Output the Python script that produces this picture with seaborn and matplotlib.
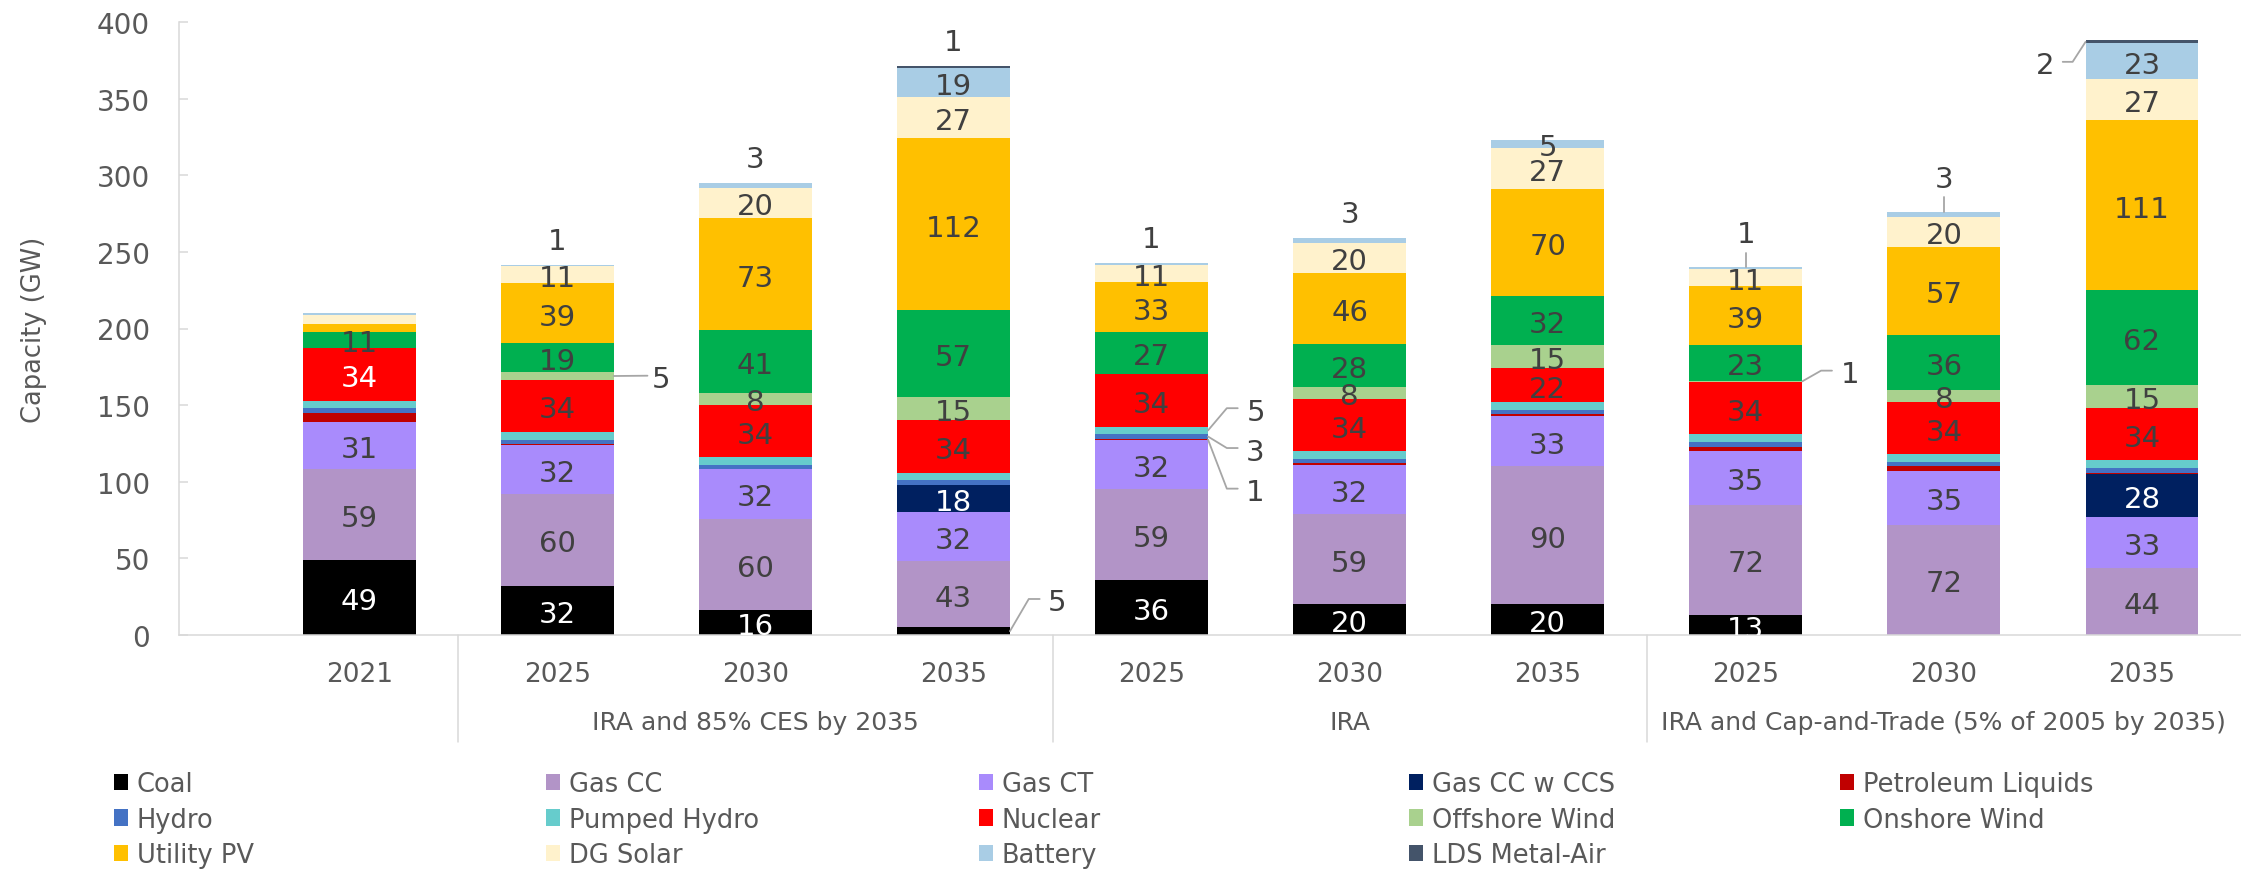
import numpy as np
import pandas as pd
import matplotlib
matplotlib.use("Agg")
import matplotlib.pyplot as plt
import seaborn as sns
from matplotlib.patches import Patch
from matplotlib.transforms import blended_transform_factory

# ---------------- data ----------------
bar_ids = ["Base 2021", "CES 2025", "CES 2030", "CES 2035",
           "IRA 2025", "IRA 2030", "IRA 2035",
           "CT 2025", "CT 2030", "CT 2035"]
years = ["2021", "2025", "2030", "2035", "2025", "2030", "2035", "2025", "2030", "2035"]
groups = ["IRA and 85% CES by 2035", "IRA", "IRA and Cap-and-Trade (5% of 2005 by 2035)"]
group_members = [[1, 2, 3], [4, 5, 6], [7, 8, 9]]

series = ["Coal", "Gas CC", "Gas CT", "Gas CC w CCS", "Petroleum Liquids",
          "Hydro", "Pumped Hydro", "Nuclear", "Offshore Wind", "Onshore Wind",
          "Utility PV", "DG Solar", "Battery", "LDS Metal-Air"]
colors = ["#000000", "#B294C7", "#A98BFC", "#002060", "#C00000",
          "#4472C4", "#66CCCC", "#FF0000", "#A9D18E", "#00B050",
          "#FFC000", "#FFF2CC", "#A9CDE5", "#44546A"]

coal       = [49, 32, 16, 5, 36, 20, 20, 13, 0, 0]
gas_cc     = [59, 60, 60, 43, 59, 59, 90, 72, 72, 44]
gas_ct     = [31, 32, 32, 32, 32, 32, 33, 35, 35, 33]
gas_cc_ccs = [0, 0, 0, 18, 0, 0, 0, 0, 0, 28]
petroleum  = [6, 0.5, 0, 0, 1, 1, 1, 3, 3, 1]
hydro      = [3, 3, 3, 3, 3, 3, 3, 3, 3, 3]
pumped     = [5, 5, 5, 5, 5, 5, 5, 5, 5, 5]
nuclear    = [34, 34, 34, 34, 34, 34, 22, 34, 34, 34]
offshore   = [0, 5, 8, 15, 0.5, 8, 15, 1, 8, 15]
onshore    = [11, 19, 41, 57, 27, 28, 32, 23, 36, 62]
utility_pv = [5, 39, 73, 112, 33, 46, 70, 39, 57, 111]
dg_solar   = [6, 11, 20, 27, 11, 20, 27, 11, 20, 27]
battery    = [1, 1, 3, 19, 1, 3, 5, 1, 3, 23]
lds        = [0, 0, 0, 1, 0, 0, 0, 0, 0, 2]

values = np.array([coal, gas_cc, gas_ct, gas_cc_ccs, petroleum, hydro, pumped,
                   nuclear, offshore, onshore, utility_pv, dg_solar, battery, lds],
                  dtype=float)
cum = np.cumsum(values, axis=0)
totals = cum[-1]

# ---------------- style ----------------
sns.set_theme(style="white")
plt.rcParams["font.family"] = ["DejaVu Sans"]
TXT = "#595959"
LBL = "#404040"
AXC = "#D9D9D9"
LEAD = "#A6A6A6"
BAR_W = 0.57
H = BAR_W / 2

W_PX, H_PX = 2241, 879
fig = plt.figure(figsize=(W_PX / 100, H_PX / 100), dpi=100)
ax = fig.add_axes([179 / W_PX, 1 - 636 / H_PX, (W_PX - 179) / W_PX, 613 / H_PX])

# stacked bars: draw cumulative tops from the top series downwards
for k in reversed(range(len(series))):
    d = pd.DataFrame({"bar": bar_ids, "top": cum[k]})
    sns.barplot(data=d, x="bar", y="top", order=bar_ids, color=colors[k],
                saturation=1, width=BAR_W, errorbar=None, linewidth=0, ax=ax)

ax.set_xlim(-0.91, 9.5)
ax.set_ylim(0, 400)
ax.set_yticks(np.arange(0, 401, 50))
ax.set_xticks(range(len(bar_ids)))
ax.set_xticklabels(years)
ax.set_xlabel("")
ax.set_ylabel("Capacity (GW)", fontsize=18.5, color=TXT)
ax.yaxis.set_label_coords(-0.064, 0.5)

for s in ["top", "right"]:
    ax.spines[s].set_visible(False)
for s in ["left", "bottom"]:
    ax.spines[s].set_color(AXC)
    ax.spines[s].set_linewidth(1.1)
ax.tick_params(axis="y", direction="in", length=6.5, width=1.1, color=AXC,
               labelsize=20, labelcolor=TXT, pad=21, left=True)
ax.tick_params(axis="x", length=0, labelsize=19, labelcolor=TXT, pad=18.5)
ax.grid(False)

# group separators and group labels
tr = blended_transform_factory(ax.transData, ax.transAxes)
for xb in [0.5, 3.5, 6.5]:
    ax.plot([xb, xb], [0, -0.175], transform=tr, color=AXC, lw=1.1, clip_on=False)
for name, mem in zip(groups, group_members):
    ax.text(np.mean(mem), -0.142, name, transform=tr, ha="center", va="center",
            fontsize=18, color=TXT)

# ---------------- data labels ----------------
white_series = {"Coal", "Gas CC w CCS"}
white_extra = {(0, "Nuclear")}
extra_inside = {(6, "Battery")}

for j in range(len(bar_ids)):
    for k, name in enumerate(series):
        v = values[k, j]
        if v >= 8 or (j, name) in extra_inside:
            yc = cum[k, j] - v / 2
            col = "white" if (name in white_series or (j, name) in white_extra) else LBL
            ax.annotate(f"{v:g}", xy=(j, yc), xytext=(0, -2.5), textcoords="offset points",
                        ha="center", va="center", fontsize=21, color=col,
                        annotation_clip=False, clip_on=True)


def seg_center(j, name):
    k = series.index(name)
    return cum[k, j] - values[k, j] / 2


def lab(x, y, txt):
    ax.annotate(txt, xy=(x, y), xytext=(0, -2.5), textcoords="offset points",
                ha="center", va="center", fontsize=21, color=LBL, annotation_clip=False)


def val(j, name):
    return f"{values[series.index(name), j]:g}"


# labels above bars (no leader)
for j, name in [(1, "Battery"), (2, "Battery"), (3, "LDS Metal-Air"),
                (4, "Battery"), (5, "Battery")]:
    lab(j, totals[j] + 18, val(j, name))

# labels above bars with short vertical leader
for j, name in [(7, "Battery"), (8, "Battery")]:
    ax.plot([j, j], [totals[j], totals[j] + 9.5], color=LEAD, lw=1.3)
    lab(j, totals[j] + 24, val(j, name))

# side callouts to the right of a bar: (bar, series, label dy)
for j, name, dy in [(1, "Offshore Wind", 0), (3, "Coal", 21),
                    (4, "Pumped Hydro", 14.5), (4, "Hydro", -7.5),
                    (4, "Petroleum Liquids", -32),
                    (7, "Offshore Wind", 7)]:
    yc = seg_center(j, name)
    x0 = j + H
    if abs(dy) < 1:
        ax.plot([x0, x0 + 0.17], [yc, yc + 0.2], color=LEAD, lw=1.3, clip_on=False)
    else:
        ax.plot([x0, x0 + 0.095, x0 + 0.15], [yc, yc + dy, yc + dy],
                color=LEAD, lw=1.3, clip_on=False)
    lab(x0 + 0.24, yc + dy, val(j, name))

# callout to the left of the last bar (LDS Metal-Air)
j = 9
top = totals[j]
x0 = j - H
ax.plot([x0, x0 - 0.065, x0 - 0.115], [top - 1, top - 14, top - 14], color=LEAD, lw=1.3)
lab(x0 - 0.205, top - 14, val(j, "LDS Metal-Air"))

# ---------------- legend (row-wise, 5 columns) ----------------
col_members = [[0, 5, 10], [1, 6, 11], [2, 7, 12], [3, 8, 13], [4, 9]]
col_x = [114, 546, 979, 1409, 1840]
for members, xp in zip(col_members, col_x):
    handles = [Patch(facecolor=colors[i], edgecolor="none") for i in members]
    labels = [series[i] for i in members]
    fig.legend(handles, labels, loc="upper left",
               bbox_to_anchor=(xp / W_PX, 1 - 772 / H_PX),
               frameon=False, fontsize=18.5, handlelength=0.56, handleheight=0.6,
               handletextpad=0.32, labelspacing=0.37, borderpad=0, borderaxespad=0,
               labelcolor=TXT)

fig.savefig("out.png", dpi=100)
